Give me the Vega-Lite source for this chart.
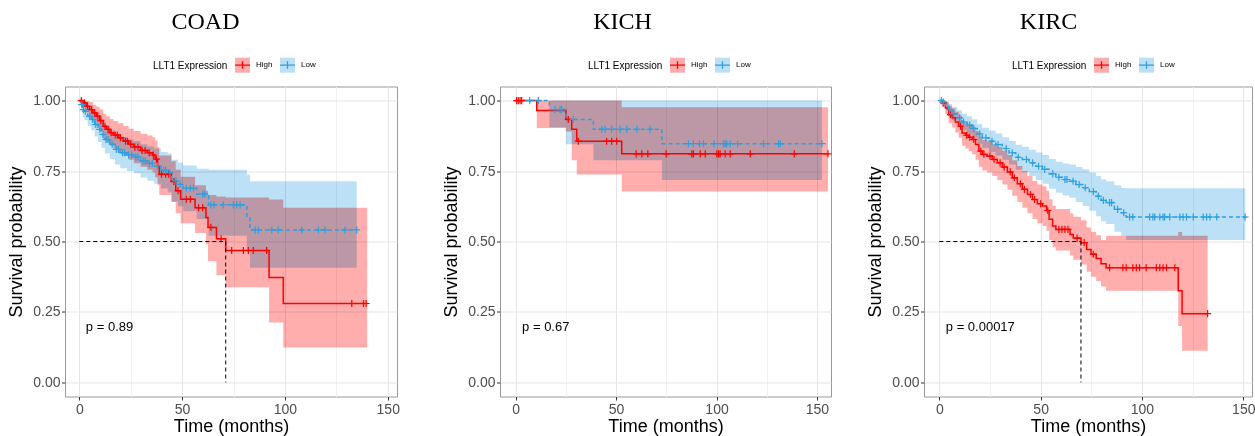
{
"$schema": "https://vega.github.io/schema/vega-lite/v6.json",
"padding": {"left": 7, "top": 9.5, "right": 0, "bottom": 0},
"bounds": "flush",
"spacing": 103,
"resolve": {"scale": {"x": "independent", "fill": "independent", "stroke": "independent"}, "legend": {"fill": "independent", "stroke": "independent"}},
"config": {
 "view": {"stroke": "#999999", "strokeWidth": 1},
 "font": "Liberation Sans",
 "axis": {"domain": false, "tickColor": "#333333", "tickWidth": 1, "tickSize": 3.5, "labelFont": "Liberation Sans", "labelFontSize": 14, "labelColor": "#4D4D4D", "titleFont": "Liberation Sans", "titleFontSize": 18, "titleFontWeight": "normal", "titleColor": "#000000", "gridWidth": 1, "labelOverlap": false},
 "axisX": {"labelPadding": 2, "titlePadding": 1},
 "axisY": {"labelPadding": 1.5, "titlePadding": 7},
 "legend": {"direction": "horizontal", "titleOrient": "left", "titleAnchor": "middle", "titleBaseline": "middle", "titleFont": "Liberation Sans", "titleFontSize": 10, "titleFontWeight": "normal", "titleColor": "#000000", "titlePadding": 6, "labelFont": "Liberation Sans", "labelFontSize": 8, "labelColor": "#000000", "labelOffset": 5, "columnPadding": 4, "padding": 0, "symbolType": "square", "symbolSize": 225, "symbolOpacity": 0.32, "symbolStrokeWidth": 1.3},
 "title": {"font": "Liberation Serif", "fontSize": 24, "fontWeight": "normal", "color": "#000000", "anchor": "middle", "frame": "group", "baseline": "alphabetic", "offset": 22.5}
},
"datasets": {
 "curve": [
  {"p":"COAD","g":"High","t":0,"s":1},{"p":"COAD","g":"High","t":1.7,"s":0.992},{"p":"COAD","g":"High","t":3.3,"s":0.98},{"p":"COAD","g":"High","t":5,"s":0.968},{"p":"COAD","g":"High","t":6.6,"s":0.956},{"p":"COAD","g":"High","t":8.3,"s":0.945},{"p":"COAD","g":"High","t":9.9,"s":0.929},{"p":"COAD","g":"High","t":11.6,"s":0.909},{"p":"COAD","g":"High","t":13.2,"s":0.898},{"p":"COAD","g":"High","t":14.9,"s":0.886},{"p":"COAD","g":"High","t":16.6,"s":0.878},{"p":"COAD","g":"High","t":19,"s":0.868},{"p":"COAD","g":"High","t":21.5,"s":0.856},{"p":"COAD","g":"High","t":24,"s":0.845},{"p":"COAD","g":"High","t":26.5,"s":0.835},{"p":"COAD","g":"High","t":29.8,"s":0.823},{"p":"COAD","g":"High","t":33.1,"s":0.815},{"p":"COAD","g":"High","t":35.6,"s":0.807},{"p":"COAD","g":"High","t":36.9,"s":0.792},{"p":"COAD","g":"High","t":38.1,"s":0.768},{"p":"COAD","g":"High","t":38.9,"s":0.739},{"p":"COAD","g":"High","t":44.7,"s":0.713},{"p":"COAD","g":"High","t":46.9,"s":0.68},{"p":"COAD","g":"High","t":49.3,"s":0.65},{"p":"COAD","g":"High","t":56.3,"s":0.62},{"p":"COAD","g":"High","t":61.6,"s":0.585},{"p":"COAD","g":"High","t":62.6,"s":0.55},{"p":"COAD","g":"High","t":66.7,"s":0.51},{"p":"COAD","g":"High","t":71.2,"s":0.468},{"p":"COAD","g":"High","t":92.3,"s":0.372},{"p":"COAD","g":"High","t":99.2,"s":0.28},{"p":"COAD","g":"High","t":140,"s":0.28},
  {"p":"COAD","g":"Low","t":0,"s":1},{"p":"COAD","g":"Low","t":0.8,"s":0.986},{"p":"COAD","g":"Low","t":1.7,"s":0.968},{"p":"COAD","g":"Low","t":2.5,"s":0.962},{"p":"COAD","g":"Low","t":4.1,"s":0.945},{"p":"COAD","g":"Low","t":5.8,"s":0.933},{"p":"COAD","g":"Low","t":7.5,"s":0.915},{"p":"COAD","g":"Low","t":9.1,"s":0.898},{"p":"COAD","g":"Low","t":10.8,"s":0.88},{"p":"COAD","g":"Low","t":12.4,"s":0.862},{"p":"COAD","g":"Low","t":14.9,"s":0.845},{"p":"COAD","g":"Low","t":17.4,"s":0.827},{"p":"COAD","g":"Low","t":19.9,"s":0.815},{"p":"COAD","g":"Low","t":23.2,"s":0.807},{"p":"COAD","g":"Low","t":26.5,"s":0.8},{"p":"COAD","g":"Low","t":29.8,"s":0.786},{"p":"COAD","g":"Low","t":33.1,"s":0.777},{"p":"COAD","g":"Low","t":36.4,"s":0.768},{"p":"COAD","g":"Low","t":39.7,"s":0.753},{"p":"COAD","g":"Low","t":43,"s":0.744},{"p":"COAD","g":"Low","t":45,"s":0.715},{"p":"COAD","g":"Low","t":48,"s":0.703},{"p":"COAD","g":"Low","t":50.5,"s":0.689},{"p":"COAD","g":"Low","t":57.1,"s":0.668},{"p":"COAD","g":"Low","t":62.9,"s":0.63},{"p":"COAD","g":"Low","t":81.5,"s":0.59},{"p":"COAD","g":"Low","t":83,"s":0.541},{"p":"COAD","g":"Low","t":134.9,"s":0.541},
  {"p":"KICH","g":"High","t":0,"s":1},{"p":"KICH","g":"High","t":10.5,"s":0.965},{"p":"KICH","g":"High","t":25,"s":0.933},{"p":"KICH","g":"High","t":27.9,"s":0.898},{"p":"KICH","g":"High","t":30.4,"s":0.856},{"p":"KICH","g":"High","t":52.8,"s":0.811},{"p":"KICH","g":"High","t":155.5,"s":0.811},
  {"p":"KICH","g":"Low","t":0,"s":1},{"p":"KICH","g":"Low","t":16.8,"s":0.968},{"p":"KICH","g":"Low","t":25,"s":0.933},{"p":"KICH","g":"Low","t":38.7,"s":0.898},{"p":"KICH","g":"Low","t":72.8,"s":0.847},{"p":"KICH","g":"Low","t":152.5,"s":0.847},
  {"p":"KIRC","g":"High","t":0,"s":1},{"p":"KIRC","g":"High","t":1.3,"s":0.992},{"p":"KIRC","g":"High","t":3,"s":0.974},{"p":"KIRC","g":"High","t":4.6,"s":0.95},{"p":"KIRC","g":"High","t":6.3,"s":0.939},{"p":"KIRC","g":"High","t":7.9,"s":0.924},{"p":"KIRC","g":"High","t":9.6,"s":0.909},{"p":"KIRC","g":"High","t":11.2,"s":0.885},{"p":"KIRC","g":"High","t":12.9,"s":0.877},{"p":"KIRC","g":"High","t":14.5,"s":0.87},{"p":"KIRC","g":"High","t":16.2,"s":0.862},{"p":"KIRC","g":"High","t":17.9,"s":0.844},{"p":"KIRC","g":"High","t":19.5,"s":0.821},{"p":"KIRC","g":"High","t":21.2,"s":0.809},{"p":"KIRC","g":"High","t":23.6,"s":0.803},{"p":"KIRC","g":"High","t":26.1,"s":0.791},{"p":"KIRC","g":"High","t":28.6,"s":0.779},{"p":"KIRC","g":"High","t":31.1,"s":0.764},{"p":"KIRC","g":"High","t":33.6,"s":0.747},{"p":"KIRC","g":"High","t":36,"s":0.726},{"p":"KIRC","g":"High","t":38.5,"s":0.705},{"p":"KIRC","g":"High","t":41,"s":0.685},{"p":"KIRC","g":"High","t":43.5,"s":0.667},{"p":"KIRC","g":"High","t":46,"s":0.649},{"p":"KIRC","g":"High","t":48.4,"s":0.634},{"p":"KIRC","g":"High","t":50.9,"s":0.626},{"p":"KIRC","g":"High","t":52.9,"s":0.61},{"p":"KIRC","g":"High","t":54.2,"s":0.579},{"p":"KIRC","g":"High","t":55.9,"s":0.555},{"p":"KIRC","g":"High","t":57.5,"s":0.543},{"p":"KIRC","g":"High","t":64.5,"s":0.525},{"p":"KIRC","g":"High","t":66.1,"s":0.512},{"p":"KIRC","g":"High","t":69.9,"s":0.496},{"p":"KIRC","g":"High","t":72.7,"s":0.472},{"p":"KIRC","g":"High","t":74.9,"s":0.455},{"p":"KIRC","g":"High","t":77.4,"s":0.44},{"p":"KIRC","g":"High","t":79.8,"s":0.421},{"p":"KIRC","g":"High","t":82.3,"s":0.407},{"p":"KIRC","g":"High","t":117.9,"s":0.325},{"p":"KIRC","g":"High","t":119.8,"s":0.244},{"p":"KIRC","g":"High","t":132.4,"s":0.244},
  {"p":"KIRC","g":"Low","t":0,"s":1},{"p":"KIRC","g":"Low","t":1.3,"s":0.995},{"p":"KIRC","g":"Low","t":3,"s":0.983},{"p":"KIRC","g":"Low","t":4.6,"s":0.968},{"p":"KIRC","g":"Low","t":6.3,"s":0.953},{"p":"KIRC","g":"Low","t":8.8,"s":0.939},{"p":"KIRC","g":"Low","t":11.2,"s":0.924},{"p":"KIRC","g":"Low","t":13.7,"s":0.913},{"p":"KIRC","g":"Low","t":16.2,"s":0.901},{"p":"KIRC","g":"Low","t":18.7,"s":0.882},{"p":"KIRC","g":"Low","t":21.2,"s":0.868},{"p":"KIRC","g":"Low","t":24.5,"s":0.856},{"p":"KIRC","g":"Low","t":27.8,"s":0.844},{"p":"KIRC","g":"Low","t":31.1,"s":0.83},{"p":"KIRC","g":"Low","t":34.4,"s":0.815},{"p":"KIRC","g":"Low","t":37.7,"s":0.799},{"p":"KIRC","g":"Low","t":41,"s":0.791},{"p":"KIRC","g":"Low","t":44.3,"s":0.779},{"p":"KIRC","g":"Low","t":47.6,"s":0.767},{"p":"KIRC","g":"Low","t":50.9,"s":0.756},{"p":"KIRC","g":"Low","t":54.2,"s":0.74},{"p":"KIRC","g":"Low","t":57.5,"s":0.728},{"p":"KIRC","g":"Low","t":60.8,"s":0.72},{"p":"KIRC","g":"Low","t":64.1,"s":0.714},{"p":"KIRC","g":"Low","t":67.4,"s":0.702},{"p":"KIRC","g":"Low","t":70.7,"s":0.691},{"p":"KIRC","g":"Low","t":74,"s":0.677},{"p":"KIRC","g":"Low","t":77.4,"s":0.661},{"p":"KIRC","g":"Low","t":79.8,"s":0.646},{"p":"KIRC","g":"Low","t":82.3,"s":0.638},{"p":"KIRC","g":"Low","t":86.4,"s":0.614},{"p":"KIRC","g":"Low","t":89.8,"s":0.602},{"p":"KIRC","g":"Low","t":92.2,"s":0.587},{"p":"KIRC","g":"Low","t":151.7,"s":0.587}
 ],
 "band": [
  {"p":"COAD","g":"High","t":0,"lo":1,"hi":1},{"p":"COAD","g":"High","t":1.7,"lo":0.975,"hi":1},{"p":"COAD","g":"High","t":3.3,"lo":0.958,"hi":0.998},{"p":"COAD","g":"High","t":5,"lo":0.94,"hi":0.995},{"p":"COAD","g":"High","t":6.6,"lo":0.925,"hi":0.985},{"p":"COAD","g":"High","t":8.3,"lo":0.91,"hi":0.978},{"p":"COAD","g":"High","t":9.9,"lo":0.89,"hi":0.968},{"p":"COAD","g":"High","t":11.6,"lo":0.865,"hi":0.952},{"p":"COAD","g":"High","t":13.2,"lo":0.852,"hi":0.944},{"p":"COAD","g":"High","t":14.9,"lo":0.84,"hi":0.935},{"p":"COAD","g":"High","t":16.6,"lo":0.83,"hi":0.928},{"p":"COAD","g":"High","t":19,"lo":0.818,"hi":0.92},{"p":"COAD","g":"High","t":21.5,"lo":0.803,"hi":0.91},{"p":"COAD","g":"High","t":24,"lo":0.79,"hi":0.9},{"p":"COAD","g":"High","t":26.5,"lo":0.778,"hi":0.892},{"p":"COAD","g":"High","t":29.8,"lo":0.765,"hi":0.882},{"p":"COAD","g":"High","t":33.1,"lo":0.755,"hi":0.876},{"p":"COAD","g":"High","t":35.6,"lo":0.745,"hi":0.87},{"p":"COAD","g":"High","t":36.9,"lo":0.728,"hi":0.858},{"p":"COAD","g":"High","t":38.1,"lo":0.7,"hi":0.835},{"p":"COAD","g":"High","t":38.9,"lo":0.665,"hi":0.805},{"p":"COAD","g":"High","t":44.7,"lo":0.64,"hi":0.785},{"p":"COAD","g":"High","t":46.9,"lo":0.6,"hi":0.755},{"p":"COAD","g":"High","t":49.3,"lo":0.565,"hi":0.73},{"p":"COAD","g":"High","t":56.3,"lo":0.53,"hi":0.7},{"p":"COAD","g":"High","t":61.6,"lo":0.49,"hi":0.68},{"p":"COAD","g":"High","t":62.6,"lo":0.43,"hi":0.665},{"p":"COAD","g":"High","t":66.7,"lo":0.38,"hi":0.66},{"p":"COAD","g":"High","t":71.2,"lo":0.338,"hi":0.656},{"p":"COAD","g":"High","t":92.3,"lo":0.213,"hi":0.649},{"p":"COAD","g":"High","t":99.2,"lo":0.124,"hi":0.62},{"p":"COAD","g":"High","t":140,"lo":0.124,"hi":0.62},
  {"p":"COAD","g":"Low","t":0,"lo":1,"hi":1},{"p":"COAD","g":"Low","t":0.8,"lo":0.965,"hi":1},{"p":"COAD","g":"Low","t":1.7,"lo":0.94,"hi":0.995},{"p":"COAD","g":"Low","t":2.5,"lo":0.93,"hi":0.99},{"p":"COAD","g":"Low","t":4.1,"lo":0.91,"hi":0.978},{"p":"COAD","g":"Low","t":5.8,"lo":0.895,"hi":0.968},{"p":"COAD","g":"Low","t":7.5,"lo":0.873,"hi":0.953},{"p":"COAD","g":"Low","t":9.1,"lo":0.853,"hi":0.94},{"p":"COAD","g":"Low","t":10.8,"lo":0.833,"hi":0.925},{"p":"COAD","g":"Low","t":12.4,"lo":0.812,"hi":0.91},{"p":"COAD","g":"Low","t":14.9,"lo":0.793,"hi":0.895},{"p":"COAD","g":"Low","t":17.4,"lo":0.773,"hi":0.88},{"p":"COAD","g":"Low","t":19.9,"lo":0.76,"hi":0.87},{"p":"COAD","g":"Low","t":23.2,"lo":0.75,"hi":0.862},{"p":"COAD","g":"Low","t":26.5,"lo":0.742,"hi":0.857},{"p":"COAD","g":"Low","t":29.8,"lo":0.727,"hi":0.845},{"p":"COAD","g":"Low","t":33.1,"lo":0.716,"hi":0.838},{"p":"COAD","g":"Low","t":36.4,"lo":0.705,"hi":0.83},{"p":"COAD","g":"Low","t":39.7,"lo":0.688,"hi":0.818},{"p":"COAD","g":"Low","t":43,"lo":0.675,"hi":0.812},{"p":"COAD","g":"Low","t":45,"lo":0.642,"hi":0.79},{"p":"COAD","g":"Low","t":48,"lo":0.625,"hi":0.78},{"p":"COAD","g":"Low","t":50.5,"lo":0.607,"hi":0.77},{"p":"COAD","g":"Low","t":57.1,"lo":0.58,"hi":0.758},{"p":"COAD","g":"Low","t":62.9,"lo":0.52,"hi":0.755},{"p":"COAD","g":"Low","t":81.5,"lo":0.47,"hi":0.737},{"p":"COAD","g":"Low","t":83,"lo":0.407,"hi":0.714},{"p":"COAD","g":"Low","t":134.9,"lo":0.407,"hi":0.714},
  {"p":"KICH","g":"High","t":0,"lo":1,"hi":1},{"p":"KICH","g":"High","t":10.5,"lo":0.903,"hi":1},{"p":"KICH","g":"High","t":25,"lo":0.89,"hi":1},{"p":"KICH","g":"High","t":27.9,"lo":0.788,"hi":1},{"p":"KICH","g":"High","t":30.4,"lo":0.738,"hi":1},{"p":"KICH","g":"High","t":52.8,"lo":0.677,"hi":0.976},{"p":"KICH","g":"High","t":155.5,"lo":0.677,"hi":0.976},
  {"p":"KICH","g":"Low","t":0,"lo":1,"hi":1},{"p":"KICH","g":"Low","t":16.8,"lo":0.905,"hi":1},{"p":"KICH","g":"Low","t":25,"lo":0.845,"hi":1},{"p":"KICH","g":"Low","t":38.7,"lo":0.788,"hi":1},{"p":"KICH","g":"Low","t":72.8,"lo":0.718,"hi":1},{"p":"KICH","g":"Low","t":152.5,"lo":0.718,"hi":1},
  {"p":"KIRC","g":"High","t":0,"lo":1,"hi":1},{"p":"KIRC","g":"High","t":1.3,"lo":0.978,"hi":1},{"p":"KIRC","g":"High","t":3,"lo":0.952,"hi":0.995},{"p":"KIRC","g":"High","t":4.6,"lo":0.92,"hi":0.98},{"p":"KIRC","g":"High","t":6.3,"lo":0.905,"hi":0.972},{"p":"KIRC","g":"High","t":7.9,"lo":0.887,"hi":0.96},{"p":"KIRC","g":"High","t":9.6,"lo":0.868,"hi":0.947},{"p":"KIRC","g":"High","t":11.2,"lo":0.84,"hi":0.928},{"p":"KIRC","g":"High","t":12.9,"lo":0.83,"hi":0.92},{"p":"KIRC","g":"High","t":14.5,"lo":0.82,"hi":0.914},{"p":"KIRC","g":"High","t":16.2,"lo":0.81,"hi":0.907},{"p":"KIRC","g":"High","t":17.9,"lo":0.79,"hi":0.892},{"p":"KIRC","g":"High","t":19.5,"lo":0.765,"hi":0.872},{"p":"KIRC","g":"High","t":21.2,"lo":0.752,"hi":0.86},{"p":"KIRC","g":"High","t":23.6,"lo":0.745,"hi":0.855},{"p":"KIRC","g":"High","t":26.1,"lo":0.732,"hi":0.845},{"p":"KIRC","g":"High","t":28.6,"lo":0.718,"hi":0.835},{"p":"KIRC","g":"High","t":31.1,"lo":0.702,"hi":0.822},{"p":"KIRC","g":"High","t":33.6,"lo":0.684,"hi":0.807},{"p":"KIRC","g":"High","t":36,"lo":0.662,"hi":0.788},{"p":"KIRC","g":"High","t":38.5,"lo":0.64,"hi":0.768},{"p":"KIRC","g":"High","t":41,"lo":0.62,"hi":0.75},{"p":"KIRC","g":"High","t":43.5,"lo":0.6,"hi":0.732},{"p":"KIRC","g":"High","t":46,"lo":0.58,"hi":0.715},{"p":"KIRC","g":"High","t":48.4,"lo":0.565,"hi":0.702},{"p":"KIRC","g":"High","t":50.9,"lo":0.555,"hi":0.696},{"p":"KIRC","g":"High","t":52.9,"lo":0.538,"hi":0.68},{"p":"KIRC","g":"High","t":54.2,"lo":0.505,"hi":0.65},{"p":"KIRC","g":"High","t":55.9,"lo":0.48,"hi":0.627},{"p":"KIRC","g":"High","t":57.5,"lo":0.468,"hi":0.615},{"p":"KIRC","g":"High","t":64.5,"lo":0.45,"hi":0.6},{"p":"KIRC","g":"High","t":66.1,"lo":0.435,"hi":0.588},{"p":"KIRC","g":"High","t":69.9,"lo":0.418,"hi":0.575},{"p":"KIRC","g":"High","t":72.7,"lo":0.393,"hi":0.55},{"p":"KIRC","g":"High","t":74.9,"lo":0.375,"hi":0.535},{"p":"KIRC","g":"High","t":77.4,"lo":0.36,"hi":0.522},{"p":"KIRC","g":"High","t":79.8,"lo":0.34,"hi":0.505},{"p":"KIRC","g":"High","t":82.3,"lo":0.325,"hi":0.52},{"p":"KIRC","g":"High","t":117.9,"lo":0.2,"hi":0.534},{"p":"KIRC","g":"High","t":119.8,"lo":0.112,"hi":0.52},{"p":"KIRC","g":"High","t":132.4,"lo":0.112,"hi":0.52},
  {"p":"KIRC","g":"Low","t":0,"lo":1,"hi":1},{"p":"KIRC","g":"Low","t":1.3,"lo":0.99,"hi":1},{"p":"KIRC","g":"Low","t":3,"lo":0.97,"hi":0.996},{"p":"KIRC","g":"Low","t":4.6,"lo":0.948,"hi":0.988},{"p":"KIRC","g":"Low","t":6.3,"lo":0.93,"hi":0.977},{"p":"KIRC","g":"Low","t":8.8,"lo":0.912,"hi":0.966},{"p":"KIRC","g":"Low","t":11.2,"lo":0.895,"hi":0.953},{"p":"KIRC","g":"Low","t":13.7,"lo":0.882,"hi":0.944},{"p":"KIRC","g":"Low","t":16.2,"lo":0.868,"hi":0.934},{"p":"KIRC","g":"Low","t":18.7,"lo":0.847,"hi":0.917},{"p":"KIRC","g":"Low","t":21.2,"lo":0.832,"hi":0.904},{"p":"KIRC","g":"Low","t":24.5,"lo":0.818,"hi":0.894},{"p":"KIRC","g":"Low","t":27.8,"lo":0.805,"hi":0.883},{"p":"KIRC","g":"Low","t":31.1,"lo":0.79,"hi":0.87},{"p":"KIRC","g":"Low","t":34.4,"lo":0.773,"hi":0.857},{"p":"KIRC","g":"Low","t":37.7,"lo":0.755,"hi":0.843},{"p":"KIRC","g":"Low","t":41,"lo":0.746,"hi":0.836},{"p":"KIRC","g":"Low","t":44.3,"lo":0.732,"hi":0.826},{"p":"KIRC","g":"Low","t":47.6,"lo":0.718,"hi":0.816},{"p":"KIRC","g":"Low","t":50.9,"lo":0.705,"hi":0.807},{"p":"KIRC","g":"Low","t":54.2,"lo":0.687,"hi":0.793},{"p":"KIRC","g":"Low","t":57.5,"lo":0.673,"hi":0.783},{"p":"KIRC","g":"Low","t":60.8,"lo":0.663,"hi":0.777},{"p":"KIRC","g":"Low","t":64.1,"lo":0.655,"hi":0.773},{"p":"KIRC","g":"Low","t":67.4,"lo":0.64,"hi":0.764},{"p":"KIRC","g":"Low","t":70.7,"lo":0.626,"hi":0.756},{"p":"KIRC","g":"Low","t":74,"lo":0.609,"hi":0.745},{"p":"KIRC","g":"Low","t":77.4,"lo":0.59,"hi":0.732},{"p":"KIRC","g":"Low","t":79.8,"lo":0.572,"hi":0.72},{"p":"KIRC","g":"Low","t":82.3,"lo":0.562,"hi":0.714},{"p":"KIRC","g":"Low","t":86.4,"lo":0.535,"hi":0.7},{"p":"KIRC","g":"Low","t":89.8,"lo":0.52,"hi":0.69},{"p":"KIRC","g":"Low","t":92.2,"lo":0.505,"hi":0.689},{"p":"KIRC","g":"Low","t":151,"lo":0.505,"hi":0.689}
 ],
 "cens": [
  {"p":"COAD","g":"High","t":1,"s":1},{"p":"COAD","g":"High","t":2.5,"s":0.992},{"p":"COAD","g":"High","t":4,"s":0.98},{"p":"COAD","g":"High","t":6,"s":0.968},{"p":"COAD","g":"High","t":7.5,"s":0.956},{"p":"COAD","g":"High","t":9,"s":0.945},{"p":"COAD","g":"High","t":10.5,"s":0.929},{"p":"COAD","g":"High","t":12.5,"s":0.909},{"p":"COAD","g":"High","t":14,"s":0.898},{"p":"COAD","g":"High","t":15.5,"s":0.886},{"p":"COAD","g":"High","t":17.5,"s":0.878},{"p":"COAD","g":"High","t":18.5,"s":0.878},{"p":"COAD","g":"High","t":20,"s":0.868},{"p":"COAD","g":"High","t":22.5,"s":0.856},{"p":"COAD","g":"High","t":23.5,"s":0.856},{"p":"COAD","g":"High","t":25,"s":0.845},{"p":"COAD","g":"High","t":27,"s":0.835},{"p":"COAD","g":"High","t":28.5,"s":0.835},{"p":"COAD","g":"High","t":30.5,"s":0.823},{"p":"COAD","g":"High","t":32,"s":0.823},{"p":"COAD","g":"High","t":34,"s":0.815},{"p":"COAD","g":"High","t":36,"s":0.807},{"p":"COAD","g":"High","t":37.5,"s":0.792},{"p":"COAD","g":"High","t":40,"s":0.739},{"p":"COAD","g":"High","t":42,"s":0.739},{"p":"COAD","g":"High","t":43.5,"s":0.739},{"p":"COAD","g":"High","t":46,"s":0.713},{"p":"COAD","g":"High","t":48,"s":0.68},{"p":"COAD","g":"High","t":52,"s":0.65},{"p":"COAD","g":"High","t":54,"s":0.65},{"p":"COAD","g":"High","t":58,"s":0.62},{"p":"COAD","g":"High","t":60,"s":0.62},{"p":"COAD","g":"High","t":64,"s":0.55},{"p":"COAD","g":"High","t":69,"s":0.51},{"p":"COAD","g":"High","t":74.1,"s":0.468},{"p":"COAD","g":"High","t":79.8,"s":0.468},{"p":"COAD","g":"High","t":82.2,"s":0.468},{"p":"COAD","g":"High","t":84.6,"s":0.468},{"p":"COAD","g":"High","t":91.1,"s":0.468},{"p":"COAD","g":"High","t":132.5,"s":0.28},{"p":"COAD","g":"High","t":138.2,"s":0.28},{"p":"COAD","g":"High","t":139.5,"s":0.28},
  {"p":"COAD","g":"Low","t":1.2,"s":0.986},{"p":"COAD","g":"Low","t":2,"s":0.968},{"p":"COAD","g":"Low","t":3,"s":0.962},{"p":"COAD","g":"Low","t":5,"s":0.945},{"p":"COAD","g":"Low","t":6.5,"s":0.933},{"p":"COAD","g":"Low","t":8,"s":0.915},{"p":"COAD","g":"Low","t":10,"s":0.898},{"p":"COAD","g":"Low","t":11.5,"s":0.88},{"p":"COAD","g":"Low","t":13,"s":0.862},{"p":"COAD","g":"Low","t":14,"s":0.862},{"p":"COAD","g":"Low","t":16,"s":0.845},{"p":"COAD","g":"Low","t":18,"s":0.827},{"p":"COAD","g":"Low","t":19,"s":0.827},{"p":"COAD","g":"Low","t":21,"s":0.815},{"p":"COAD","g":"Low","t":22,"s":0.815},{"p":"COAD","g":"Low","t":24,"s":0.807},{"p":"COAD","g":"Low","t":25.5,"s":0.807},{"p":"COAD","g":"Low","t":27.5,"s":0.8},{"p":"COAD","g":"Low","t":28.5,"s":0.8},{"p":"COAD","g":"Low","t":31,"s":0.786},{"p":"COAD","g":"Low","t":32,"s":0.786},{"p":"COAD","g":"Low","t":34,"s":0.777},{"p":"COAD","g":"Low","t":35.5,"s":0.777},{"p":"COAD","g":"Low","t":38,"s":0.768},{"p":"COAD","g":"Low","t":41,"s":0.753},{"p":"COAD","g":"Low","t":42,"s":0.753},{"p":"COAD","g":"Low","t":44,"s":0.744},{"p":"COAD","g":"Low","t":47,"s":0.715},{"p":"COAD","g":"Low","t":49,"s":0.703},{"p":"COAD","g":"Low","t":52,"s":0.689},{"p":"COAD","g":"Low","t":54,"s":0.689},{"p":"COAD","g":"Low","t":55.5,"s":0.689},{"p":"COAD","g":"Low","t":60,"s":0.668},{"p":"COAD","g":"Low","t":61,"s":0.668},{"p":"COAD","g":"Low","t":64,"s":0.63},{"p":"COAD","g":"Low","t":65.5,"s":0.63},{"p":"COAD","g":"Low","t":70,"s":0.63},{"p":"COAD","g":"Low","t":74.9,"s":0.63},{"p":"COAD","g":"Low","t":76.5,"s":0.63},{"p":"COAD","g":"Low","t":78.2,"s":0.63},{"p":"COAD","g":"Low","t":85.5,"s":0.541},{"p":"COAD","g":"Low","t":87.1,"s":0.541},{"p":"COAD","g":"Low","t":93.6,"s":0.541},{"p":"COAD","g":"Low","t":96.8,"s":0.541},{"p":"COAD","g":"Low","t":108.2,"s":0.541},{"p":"COAD","g":"Low","t":116.3,"s":0.541},{"p":"COAD","g":"Low","t":119.5,"s":0.541},{"p":"COAD","g":"Low","t":129.2,"s":0.541},{"p":"COAD","g":"Low","t":134.9,"s":0.541},
  {"p":"KICH","g":"High","t":0.5,"s":1},{"p":"KICH","g":"High","t":1.3,"s":1},{"p":"KICH","g":"High","t":2.2,"s":1},{"p":"KICH","g":"High","t":3,"s":1},{"p":"KICH","g":"High","t":26.2,"s":0.933},{"p":"KICH","g":"High","t":31.2,"s":0.856},{"p":"KICH","g":"High","t":45.3,"s":0.856},{"p":"KICH","g":"High","t":47.8,"s":0.856},{"p":"KICH","g":"High","t":50.3,"s":0.856},{"p":"KICH","g":"High","t":60,"s":0.811},{"p":"KICH","g":"High","t":62.8,"s":0.811},{"p":"KICH","g":"High","t":65.8,"s":0.811},{"p":"KICH","g":"High","t":74.9,"s":0.811},{"p":"KICH","g":"High","t":87.7,"s":0.811},{"p":"KICH","g":"High","t":88.5,"s":0.811},{"p":"KICH","g":"High","t":91.9,"s":0.811},{"p":"KICH","g":"High","t":94.4,"s":0.811},{"p":"KICH","g":"High","t":100.2,"s":0.811},{"p":"KICH","g":"High","t":101,"s":0.811},{"p":"KICH","g":"High","t":101.8,"s":0.811},{"p":"KICH","g":"High","t":104.3,"s":0.811},{"p":"KICH","g":"High","t":106.8,"s":0.811},{"p":"KICH","g":"High","t":116.8,"s":0.811},{"p":"KICH","g":"High","t":138.7,"s":0.811},{"p":"KICH","g":"High","t":155.5,"s":0.811},
  {"p":"KICH","g":"Low","t":7,"s":1},{"p":"KICH","g":"Low","t":11.3,"s":1},{"p":"KICH","g":"Low","t":19.6,"s":0.968},{"p":"KICH","g":"Low","t":22.1,"s":0.968},{"p":"KICH","g":"Low","t":22.9,"s":0.968},{"p":"KICH","g":"Low","t":28.7,"s":0.933},{"p":"KICH","g":"Low","t":42.9,"s":0.898},{"p":"KICH","g":"Low","t":44.5,"s":0.898},{"p":"KICH","g":"Low","t":47.8,"s":0.898},{"p":"KICH","g":"Low","t":52,"s":0.898},{"p":"KICH","g":"Low","t":55.3,"s":0.898},{"p":"KICH","g":"Low","t":60.3,"s":0.898},{"p":"KICH","g":"Low","t":66.9,"s":0.898},{"p":"KICH","g":"Low","t":86,"s":0.847},{"p":"KICH","g":"Low","t":88.5,"s":0.847},{"p":"KICH","g":"Low","t":91.5,"s":0.847},{"p":"KICH","g":"Low","t":93.5,"s":0.847},{"p":"KICH","g":"Low","t":98.8,"s":0.847},{"p":"KICH","g":"Low","t":103.5,"s":0.847},{"p":"KICH","g":"Low","t":104.3,"s":0.847},{"p":"KICH","g":"Low","t":105.1,"s":0.847},{"p":"KICH","g":"Low","t":106.8,"s":0.847},{"p":"KICH","g":"Low","t":110.5,"s":0.847},{"p":"KICH","g":"Low","t":123.4,"s":0.847},{"p":"KICH","g":"Low","t":130.9,"s":0.847},{"p":"KICH","g":"Low","t":131.7,"s":0.847},{"p":"KICH","g":"Low","t":152.5,"s":0.847},
  {"p":"KIRC","g":"High","t":2,"s":0.992},{"p":"KIRC","g":"High","t":5.5,"s":0.95},{"p":"KIRC","g":"High","t":10.5,"s":0.909},{"p":"KIRC","g":"High","t":13.5,"s":0.877},{"p":"KIRC","g":"High","t":15,"s":0.87},{"p":"KIRC","g":"High","t":17,"s":0.862},{"p":"KIRC","g":"High","t":20.5,"s":0.821},{"p":"KIRC","g":"High","t":22,"s":0.809},{"p":"KIRC","g":"High","t":25,"s":0.803},{"p":"KIRC","g":"High","t":27,"s":0.791},{"p":"KIRC","g":"High","t":30,"s":0.779},{"p":"KIRC","g":"High","t":32,"s":0.764},{"p":"KIRC","g":"High","t":35,"s":0.747},{"p":"KIRC","g":"High","t":37,"s":0.726},{"p":"KIRC","g":"High","t":40,"s":0.705},{"p":"KIRC","g":"High","t":42,"s":0.685},{"p":"KIRC","g":"High","t":45,"s":0.667},{"p":"KIRC","g":"High","t":47,"s":0.649},{"p":"KIRC","g":"High","t":50,"s":0.634},{"p":"KIRC","g":"High","t":53.5,"s":0.61},{"p":"KIRC","g":"High","t":59,"s":0.543},{"p":"KIRC","g":"High","t":60.5,"s":0.543},{"p":"KIRC","g":"High","t":62,"s":0.543},{"p":"KIRC","g":"High","t":63.5,"s":0.543},{"p":"KIRC","g":"High","t":68,"s":0.512},{"p":"KIRC","g":"High","t":71.5,"s":0.496},{"p":"KIRC","g":"High","t":76,"s":0.455},{"p":"KIRC","g":"High","t":84,"s":0.407},{"p":"KIRC","g":"High","t":90.6,"s":0.407},{"p":"KIRC","g":"High","t":92.2,"s":0.407},{"p":"KIRC","g":"High","t":95.5,"s":0.407},{"p":"KIRC","g":"High","t":97.2,"s":0.407},{"p":"KIRC","g":"High","t":98.8,"s":0.407},{"p":"KIRC","g":"High","t":102.1,"s":0.407},{"p":"KIRC","g":"High","t":107.1,"s":0.407},{"p":"KIRC","g":"High","t":108.8,"s":0.407},{"p":"KIRC","g":"High","t":110.4,"s":0.407},{"p":"KIRC","g":"High","t":112.1,"s":0.407},{"p":"KIRC","g":"High","t":116.2,"s":0.407},{"p":"KIRC","g":"High","t":132.4,"s":0.244},
  {"p":"KIRC","g":"Low","t":1,"s":1},{"p":"KIRC","g":"Low","t":2,"s":0.995},{"p":"KIRC","g":"Low","t":5,"s":0.968},{"p":"KIRC","g":"Low","t":7,"s":0.953},{"p":"KIRC","g":"Low","t":10,"s":0.939},{"p":"KIRC","g":"Low","t":12,"s":0.924},{"p":"KIRC","g":"Low","t":15,"s":0.913},{"p":"KIRC","g":"Low","t":17,"s":0.901},{"p":"KIRC","g":"Low","t":20,"s":0.882},{"p":"KIRC","g":"Low","t":23,"s":0.868},{"p":"KIRC","g":"Low","t":26,"s":0.856},{"p":"KIRC","g":"Low","t":29,"s":0.844},{"p":"KIRC","g":"Low","t":33,"s":0.83},{"p":"KIRC","g":"Low","t":36,"s":0.815},{"p":"KIRC","g":"Low","t":39,"s":0.799},{"p":"KIRC","g":"Low","t":43,"s":0.791},{"p":"KIRC","g":"Low","t":46,"s":0.779},{"p":"KIRC","g":"Low","t":49,"s":0.767},{"p":"KIRC","g":"Low","t":52,"s":0.756},{"p":"KIRC","g":"Low","t":56,"s":0.74},{"p":"KIRC","g":"Low","t":59,"s":0.728},{"p":"KIRC","g":"Low","t":62,"s":0.72},{"p":"KIRC","g":"Low","t":63,"s":0.72},{"p":"KIRC","g":"Low","t":66,"s":0.714},{"p":"KIRC","g":"Low","t":69,"s":0.702},{"p":"KIRC","g":"Low","t":72,"s":0.691},{"p":"KIRC","g":"Low","t":76,"s":0.677},{"p":"KIRC","g":"Low","t":78.5,"s":0.661},{"p":"KIRC","g":"Low","t":81,"s":0.646},{"p":"KIRC","g":"Low","t":84,"s":0.638},{"p":"KIRC","g":"Low","t":85,"s":0.638},{"p":"KIRC","g":"Low","t":88,"s":0.614},{"p":"KIRC","g":"Low","t":91,"s":0.602},{"p":"KIRC","g":"Low","t":93.9,"s":0.587},{"p":"KIRC","g":"Low","t":95.5,"s":0.587},{"p":"KIRC","g":"Low","t":103.8,"s":0.587},{"p":"KIRC","g":"Low","t":105.4,"s":0.587},{"p":"KIRC","g":"Low","t":106.3,"s":0.587},{"p":"KIRC","g":"Low","t":108.8,"s":0.587},{"p":"KIRC","g":"Low","t":110.4,"s":0.587},{"p":"KIRC","g":"Low","t":111.2,"s":0.587},{"p":"KIRC","g":"Low","t":113.7,"s":0.587},{"p":"KIRC","g":"Low","t":118.7,"s":0.587},{"p":"KIRC","g":"Low","t":120.3,"s":0.587},{"p":"KIRC","g":"Low","t":122,"s":0.587},{"p":"KIRC","g":"Low","t":125.3,"s":0.587},{"p":"KIRC","g":"Low","t":130.2,"s":0.587},{"p":"KIRC","g":"Low","t":131.9,"s":0.587},{"p":"KIRC","g":"Low","t":133.6,"s":0.587},{"p":"KIRC","g":"Low","t":136.9,"s":0.587},{"p":"KIRC","g":"Low","t":150.9,"s":0.587}
 ],
 "med": [
  {"p":"COAD","x":0,"x2":71.2,"y":0.5,"y2":0.5},{"p":"COAD","x":71.2,"x2":71.2,"y":0.5,"y2":0},
  {"p":"KIRC","x":0,"x2":69.9,"y":0.5,"y2":0.5},{"p":"KIRC","x":69.9,"x2":69.9,"y":0.5,"y2":0}
 ],
 "pv": [
  {"p":"COAD","t":3.2,"s":0.183,"label":"p = 0.89"},
  {"p":"KICH","t":3.2,"s":0.183,"label":"p = 0.67"},
  {"p":"KIRC","t":3.2,"s":0.183,"label":"p = 0.00017"}
 ]
},
"hconcat": [
 {
  "width": 332, "height": 310,
  "title": {"text": "COAD", "dx": -25.5},
  "layer": [
   {"data": {"name": "band"}, "transform": [{"filter": "datum.p == 'COAD'"}],
    "mark": {"type": "area", "interpolate": "step-after", "fillOpacity": 0.32, "blend": "multiply"},
    "encoding": {
     "x": {"field": "t", "type": "quantitative", "scale": {"domain": [-6.95, 154.5], "nice": false, "zero": false},
       "axis": {"title": "Time (months)", "values": [0,25,50,75,100,125,150], "format": "d", "labelExpr": "datum.value % 50 == 0 ? datum.label : ''", "tickOpacity": {"condition": {"test": "datum.value % 50 != 0", "value": 0}, "value": 1}, "gridColor": {"condition": {"test": "datum.value % 50 != 0", "value": "#F1F1F1"}, "value": "#E5E5E5"}}},
     "y": {"field": "lo", "type": "quantitative", "stack": null, "scale": {"domain": [-0.05, 1.05], "nice": false, "zero": false},
       "axis": {"title": "Survival probability", "values": [0,0.125,0.25,0.375,0.5,0.625,0.75,0.875,1], "format": ".2f", "labelExpr": "(datum.value*4) % 1 == 0 ? datum.label : ''", "tickOpacity": {"condition": {"test": "(datum.value*4) % 1 != 0", "value": 0}, "value": 1}, "gridColor": {"condition": {"test": "(datum.value*4) % 1 != 0", "value": "#F1F1F1"}, "value": "#E5E5E5"}}},
     "y2": {"field": "hi"},
     "fill": {"field": "g", "type": "nominal", "scale": {"domain": ["High", "Low"], "range": ["#FF0000", "#2E9FDF"]}, "legend": {"title": "LLT1 Expression", "orient": "none", "legendX": 88, "legendY": -30, "symbolStrokeColor": "transparent"}}
    }},
   {"data": {"name": "curve"}, "transform": [{"filter": "datum.p == 'COAD'"}],
    "mark": {"type": "line", "interpolate": "step-after", "strokeWidth": 1.5},
    "encoding": {"x": {"field": "t", "type": "quantitative"}, "y": {"field": "s", "type": "quantitative"},
     "stroke": {"field": "g", "type": "nominal", "scale": {"range": ["#FF0000", "#2E9FDF"]}},
     "strokeDash": {"field": "g", "type": "nominal", "scale": {"domain": ["High", "Low"], "range": [[1,0],[4,3]]}, "legend": null}}},
   {"data": {"name": "cens"}, "transform": [{"filter": "datum.p == 'COAD'"}],
    "mark": {"type": "point", "shape": "M-1,0H1M0,-1V1", "size": 50, "strokeWidth": 1.2, "filled": false, "opacity": 1},
    "encoding": {"x": {"field": "t", "type": "quantitative"}, "y": {"field": "s", "type": "quantitative"},
     "stroke": {"field": "g", "type": "nominal", "scale": {"range": ["#FF0000", "#2E9FDF"]}, "legend": {"title": "LLT1 Expression", "orient": "none", "legendX": 88, "legendY": -30, "titleColor": "transparent", "labelColor": "transparent", "symbolType": "M-1,0H1M0,-0.5V0.5", "symbolOpacity": 1, "symbolStrokeWidth": 1.3, "symbolFillColor": "transparent", "symbolDash": [1,0]}}}},
   {"data": {"name": "med"}, "transform": [{"filter": "datum.p == 'COAD'"}],
    "mark": {"type": "rule", "strokeDash": [4,3], "color": "#000000", "strokeWidth": 1},
    "encoding": {"x": {"field": "x", "type": "quantitative"}, "x2": {"field": "x2"}, "y": {"field": "y", "type": "quantitative"}, "y2": {"field": "y2"}}},
   {"data": {"name": "pv"}, "transform": [{"filter": "datum.p == 'COAD'"}],
    "mark": {"type": "text", "align": "left", "baseline": "alphabetic", "fontSize": 13, "font": "Liberation Sans", "color": "#000000"},
    "encoding": {"x": {"field": "t", "type": "quantitative"}, "y": {"field": "s", "type": "quantitative"}, "text": {"field": "label"}}}
  ]
 },
 {
  "bounds": "flush",
  "spacing": 93,
  "resolve": {"scale": {"x": "independent", "fill": "independent", "stroke": "independent"}, "legend": {"fill": "independent", "stroke": "independent"}},
  "hconcat": [
   {
    "width": 331, "height": 310,
    "title": {"text": "KICH", "dx": -43},
    "layer": [
     {"data": {"name": "band"}, "transform": [{"filter": "datum.p == 'KICH'"}],
      "mark": {"type": "area", "interpolate": "step-after", "fillOpacity": 0.32, "blend": "multiply"},
      "encoding": {
       "x": {"field": "t", "type": "quantitative", "scale": {"domain": [-7.8, 157], "nice": false, "zero": false},
         "axis": {"title": "Time (months)", "values": [0,25,50,75,100,125,150], "format": "d", "labelExpr": "datum.value % 50 == 0 ? datum.label : ''", "tickOpacity": {"condition": {"test": "datum.value % 50 != 0", "value": 0}, "value": 1}, "gridColor": {"condition": {"test": "datum.value % 50 != 0", "value": "#F1F1F1"}, "value": "#E5E5E5"}}},
       "y": {"field": "lo", "type": "quantitative", "stack": null, "scale": {"domain": [-0.05, 1.05], "nice": false, "zero": false},
         "axis": {"title": "Survival probability", "values": [0,0.125,0.25,0.375,0.5,0.625,0.75,0.875,1], "format": ".2f", "labelExpr": "(datum.value*4) % 1 == 0 ? datum.label : ''", "tickOpacity": {"condition": {"test": "(datum.value*4) % 1 != 0", "value": 0}, "value": 1}, "gridColor": {"condition": {"test": "(datum.value*4) % 1 != 0", "value": "#F1F1F1"}, "value": "#E5E5E5"}}},
       "y2": {"field": "hi"},
       "fill": {"field": "g", "type": "nominal", "scale": {"domain": ["High", "Low"], "range": ["#FF0000", "#2E9FDF"]}, "legend": {"title": "LLT1 Expression", "orient": "none", "legendX": 88, "legendY": -30, "symbolStrokeColor": "transparent"}}
      }},
     {"data": {"name": "curve"}, "transform": [{"filter": "datum.p == 'KICH'"}],
      "mark": {"type": "line", "interpolate": "step-after", "strokeWidth": 1.5},
      "encoding": {"x": {"field": "t", "type": "quantitative"}, "y": {"field": "s", "type": "quantitative"},
       "stroke": {"field": "g", "type": "nominal", "scale": {"range": ["#FF0000", "#2E9FDF"]}},
       "strokeDash": {"field": "g", "type": "nominal", "scale": {"domain": ["High", "Low"], "range": [[1,0],[4,3]]}, "legend": null}}},
     {"data": {"name": "cens"}, "transform": [{"filter": "datum.p == 'KICH'"}],
      "mark": {"type": "point", "shape": "M-1,0H1M0,-1V1", "size": 50, "strokeWidth": 1.2, "filled": false, "opacity": 1},
      "encoding": {"x": {"field": "t", "type": "quantitative"}, "y": {"field": "s", "type": "quantitative"},
       "stroke": {"field": "g", "type": "nominal", "scale": {"range": ["#FF0000", "#2E9FDF"]}, "legend": {"title": "LLT1 Expression", "orient": "none", "legendX": 88, "legendY": -30, "titleColor": "transparent", "labelColor": "transparent", "symbolType": "M-1,0H1M0,-0.5V0.5", "symbolOpacity": 1, "symbolStrokeWidth": 1.3, "symbolFillColor": "transparent", "symbolDash": [1,0]}}}},
     {"data": {"name": "pv"}, "transform": [{"filter": "datum.p == 'KICH'"}],
      "mark": {"type": "text", "align": "left", "baseline": "alphabetic", "fontSize": 13, "font": "Liberation Sans", "color": "#000000"},
      "encoding": {"x": {"field": "t", "type": "quantitative"}, "y": {"field": "s", "type": "quantitative"}, "text": {"field": "label"}}}
    ]
   },
   {
    "width": 328, "height": 310,
    "title": {"text": "KIRC", "dx": -39.5},
    "layer": [
     {"data": {"name": "band"}, "transform": [{"filter": "datum.p == 'KIRC'"}],
      "mark": {"type": "area", "interpolate": "step-after", "fillOpacity": 0.32, "blend": "multiply"},
      "encoding": {
       "x": {"field": "t", "type": "quantitative", "scale": {"domain": [-7.55, 154.3], "nice": false, "zero": false},
         "axis": {"title": "Time (months)", "values": [0,25,50,75,100,125,150], "format": "d", "labelExpr": "datum.value % 50 == 0 ? datum.label : ''", "tickOpacity": {"condition": {"test": "datum.value % 50 != 0", "value": 0}, "value": 1}, "gridColor": {"condition": {"test": "datum.value % 50 != 0", "value": "#F1F1F1"}, "value": "#E5E5E5"}}},
       "y": {"field": "lo", "type": "quantitative", "stack": null, "scale": {"domain": [-0.05, 1.05], "nice": false, "zero": false},
         "axis": {"title": "Survival probability", "values": [0,0.125,0.25,0.375,0.5,0.625,0.75,0.875,1], "format": ".2f", "labelExpr": "(datum.value*4) % 1 == 0 ? datum.label : ''", "tickOpacity": {"condition": {"test": "(datum.value*4) % 1 != 0", "value": 0}, "value": 1}, "gridColor": {"condition": {"test": "(datum.value*4) % 1 != 0", "value": "#F1F1F1"}, "value": "#E5E5E5"}}},
       "y2": {"field": "hi"},
       "fill": {"field": "g", "type": "nominal", "scale": {"domain": ["High", "Low"], "range": ["#FF0000", "#2E9FDF"]}, "legend": {"title": "LLT1 Expression", "orient": "none", "legendX": 88, "legendY": -30, "symbolStrokeColor": "transparent"}}
      }},
     {"data": {"name": "curve"}, "transform": [{"filter": "datum.p == 'KIRC'"}],
      "mark": {"type": "line", "interpolate": "step-after", "strokeWidth": 1.5},
      "encoding": {"x": {"field": "t", "type": "quantitative"}, "y": {"field": "s", "type": "quantitative"},
       "stroke": {"field": "g", "type": "nominal", "scale": {"range": ["#FF0000", "#2E9FDF"]}},
       "strokeDash": {"field": "g", "type": "nominal", "scale": {"domain": ["High", "Low"], "range": [[1,0],[4,3]]}, "legend": null}}},
     {"data": {"name": "cens"}, "transform": [{"filter": "datum.p == 'KIRC'"}],
      "mark": {"type": "point", "shape": "M-1,0H1M0,-1V1", "size": 50, "strokeWidth": 1.2, "filled": false, "opacity": 1},
      "encoding": {"x": {"field": "t", "type": "quantitative"}, "y": {"field": "s", "type": "quantitative"},
       "stroke": {"field": "g", "type": "nominal", "scale": {"range": ["#FF0000", "#2E9FDF"]}, "legend": {"title": "LLT1 Expression", "orient": "none", "legendX": 88, "legendY": -30, "titleColor": "transparent", "labelColor": "transparent", "symbolType": "M-1,0H1M0,-0.5V0.5", "symbolOpacity": 1, "symbolStrokeWidth": 1.3, "symbolFillColor": "transparent", "symbolDash": [1,0]}}}},
     {"data": {"name": "med"}, "transform": [{"filter": "datum.p == 'KIRC'"}],
      "mark": {"type": "rule", "strokeDash": [4,3], "color": "#000000", "strokeWidth": 1},
      "encoding": {"x": {"field": "x", "type": "quantitative"}, "x2": {"field": "x2"}, "y": {"field": "y", "type": "quantitative"}, "y2": {"field": "y2"}}},
     {"data": {"name": "pv"}, "transform": [{"filter": "datum.p == 'KIRC'"}],
      "mark": {"type": "text", "align": "left", "baseline": "alphabetic", "fontSize": 13, "font": "Liberation Sans", "color": "#000000"},
      "encoding": {"x": {"field": "t", "type": "quantitative"}, "y": {"field": "s", "type": "quantitative"}, "text": {"field": "label"}}}
    ]
   }
  ]
 }
]
}
